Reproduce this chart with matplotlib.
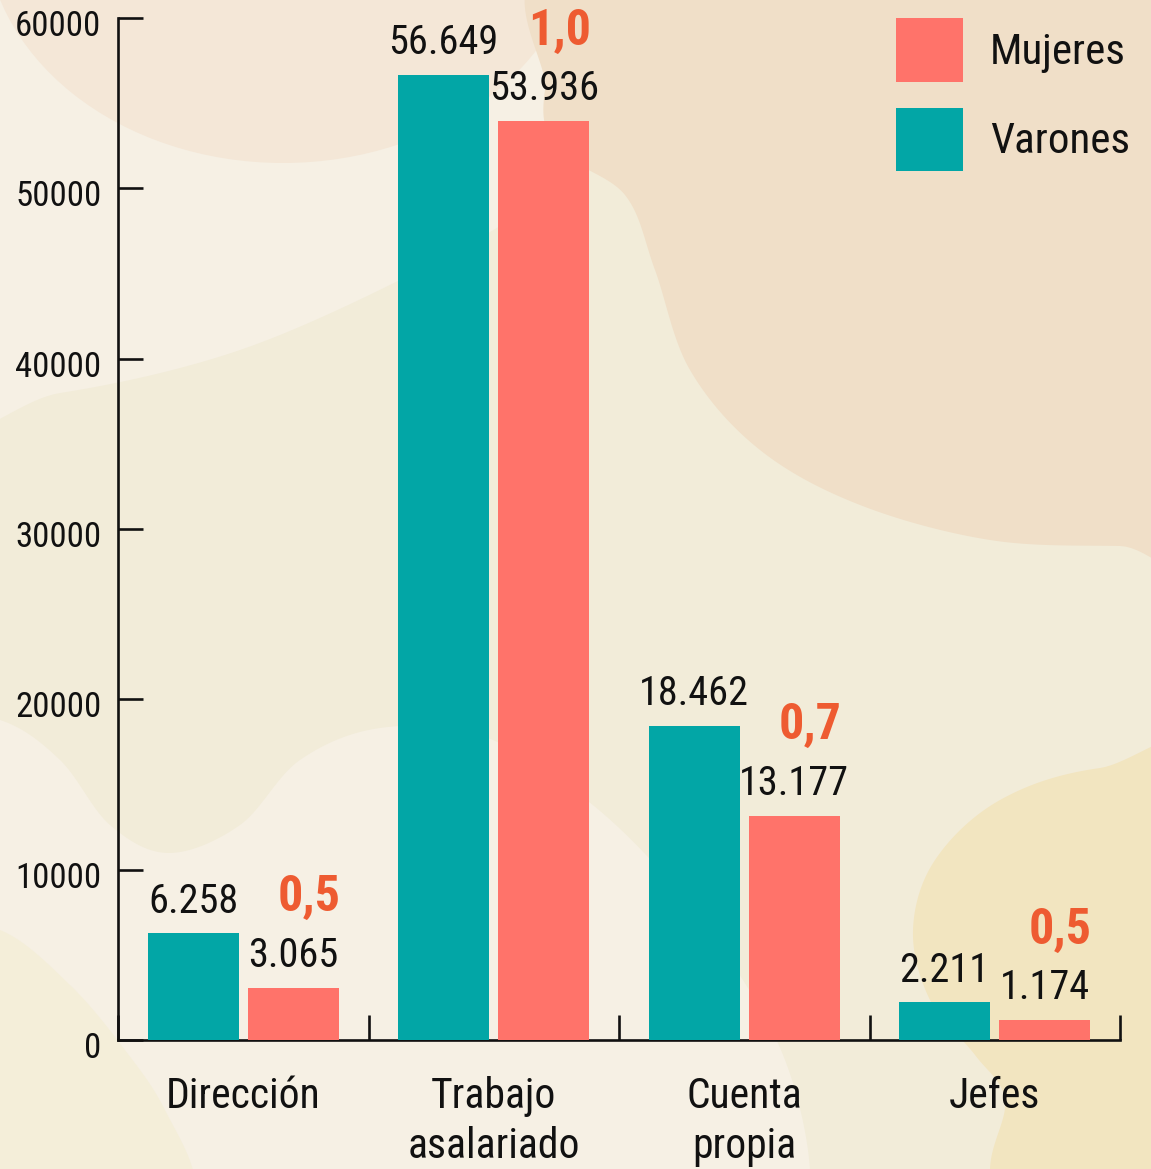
import numpy as np
import matplotlib
matplotlib.use('Agg')
import matplotlib.pyplot as plt
from matplotlib import font_manager
from matplotlib.patches import Polygon, Ellipse, Patch
import matplotlib.transforms as mtransforms

# Data
categories = ['Dirección', 'Trabajo\nasalariado', 'Cuenta\npropia', 'Jefes']
varones = [6258, 56649, 18462, 2211]
mujeres = [3065, 53936, 13177, 1174]
varones_labels = ['6.258', '56.649', '18.462', '2.211']
mujeres_labels = ['3.065', '53.936', '13.177', '1.174']
ratio_labels = ['0,5', '1,0', '0,7', '0,5']
yticks = [0, 10000, 20000, 30000, 40000, 50000, 60000]

TEAL = '#02A6A6'
CORAL = '#FF736A'
ORANGE = '#EE5B31'
INK = '#111111'

# Pick a condensed font if there is one
installed = {f.name for f in font_manager.fontManager.ttflist}
font = 'DejaVu Sans'
for name in ['Liberation Sans Narrow', 'Roboto Condensed', 'Open Sans Condensed']:
    if name in installed:
        font = name
        break
plt.rcParams['font.family'] = [font, 'DejaVu Sans']


def smooth(points, n=24):
    # closed Catmull-Rom curve through the points
    p = np.array(points, dtype=float)
    out = []
    m = len(p)
    for i in range(m):
        p0, p1, p2, p3 = p[i - 1], p[i], p[(i + 1) % m], p[(i + 2) % m]
        for t in np.linspace(0, 1, n, endpoint=False):
            t2, t3 = t * t, t * t * t
            out.append(0.5 * ((2 * p1) + (-p0 + p2) * t +
                              (2 * p0 - 5 * p1 + 4 * p2 - p3) * t2 +
                              (-p0 + 3 * p1 - 3 * p2 + p3) * t3))
    return np.array(out)


W, H = 1151, 1169
fig = plt.figure(figsize=(W / 100, H / 100), dpi=100)
fig.patch.set_facecolor('#F2ECD9')

# Background blobs (pixel coordinates, y down)
bg = fig.add_axes([0, 0, 1, 1], zorder=-5)
bg.set_xlim(0, W)
bg.set_ylim(H, 0)
bg.axis('off')

light = '#F6F0E4'
bg.add_patch(Polygon(smooth([(-80, -80), (720, -80), (640, 120), (540, 200), (420, 270),
                             (240, 350), (60, 393), (-80, 400)]), color=light, lw=0))
bg.add_patch(Ellipse((283, -75), 596, 476, color='#F4E7D7', lw=0))
bg.add_patch(Polygon(smooth([(590, -60), (545, 90), (560, 150), (625, 195), (655, 270),
                             (690, 370), (760, 450), (860, 505), (990, 540), (1120, 546),
                             (1250, 545), (1250, -60)]), color='#F0DFC8', lw=0))
bg.add_patch(Polygon(smooth([(-80, 715), (0, 720), (60, 760), (110, 825), (169, 853),
                             (240, 825), (300, 760), (380, 728), (480, 735), (580, 795),
                             (660, 870), (730, 960), (785, 1060), (810, 1169), (800, 1260),
                             (-80, 1260)]), color=light, lw=0))
bg.add_patch(Polygon(smooth([(-80, 925), (0, 930), (70, 985), (125, 1050), (165, 1110),
                             (195, 1190), (150, 1260), (-80, 1260)]), color='#F4EED9', lw=0))
bg.add_patch(Polygon(smooth([(1250, 765), (1100, 768), (1000, 800), (935, 860), (913, 930),
                             (930, 1000), (975, 1055), (1005, 1100), (990, 1169), (1000, 1260),
                             (1250, 1260)]), color='#F2E5C0', lw=0))

# Main axes
ax = fig.add_axes([118 / W, 1 - 1040 / H, (1120 - 118) / W, (1040 - 18) / H])
ax.patch.set_alpha(0)

x = np.arange(len(categories))
width = 0.363
ax.bar(x - 0.2, varones, width, color=TEAL, zorder=3)
ax.bar(x + 0.2, mujeres, width, color=CORAL, zorder=3)

ax.set_xlim(-0.5, 3.5)
ax.set_ylim(0, 60000)

for s in ['top', 'right']:
    ax.spines[s].set_visible(False)
for s in ['left', 'bottom']:
    ax.spines[s].set_linewidth(1.9)
    ax.spines[s].set_color(INK)

# y ticks
ax.set_yticks(yticks)
ax.set_yticklabels([str(v) for v in yticks])
ax.tick_params(axis='y', direction='in', length=18, width=1.9, color=INK,
               labelsize=25, pad=12, labelcolor=INK)
offset = mtransforms.ScaledTranslation(0, -0.05, fig.dpi_scale_trans)
for lab in ax.get_yticklabels():
    lab.set_transform(lab.get_transform() + offset)

# x ticks at group boundaries, labels at group centres
ax.set_xticks(np.arange(-0.5, 4, 1))
ax.set_xticklabels([])
ax.tick_params(axis='x', which='major', direction='in', length=18, width=1.9, color=INK)
ax.set_xticks(x, minor=True)
ax.set_xticklabels(categories, minor=True, fontsize=30, color=INK, linespacing=1.28, va='top')
ax.tick_params(axis='x', which='minor', length=0, pad=26)

# Value labels
for i in range(len(categories)):
    ax.annotate(varones_labels[i], (x[i] - 0.2, varones[i]), xytext=(0, 15),
                textcoords='offset points', ha='center', va='baseline',
                fontsize=29, color=INK, annotation_clip=False)
    ax.annotate(mujeres_labels[i], (x[i] + 0.2, mujeres[i]), xytext=(0, 15),
                textcoords='offset points', ha='center', va='baseline',
                fontsize=29, color=INK, annotation_clip=False)
    ax.annotate(ratio_labels[i], (x[i] + 0.2, mujeres[i]), xytext=(11, 55),
                textcoords='offset points', ha='center', va='baseline',
                fontsize=36, fontweight='bold', color=ORANGE, annotation_clip=False)

# Legend
handles = [Patch(color=CORAL, lw=0), Patch(color=TEAL, lw=0)]
leg = ax.legend(handles, ['Mujeres', 'Varones'], loc='upper right',
                bbox_to_anchor=(1130 / W, 1 - 18 / H), bbox_transform=fig.transFigure,
                frameon=False, fontsize=31, handlelength=1.56, handleheight=1.9,
                handletextpad=0.62, labelspacing=0.6, borderpad=0, borderaxespad=0)
for t in leg.get_texts():
    t.set_color(INK)

fig.savefig('out.png', dpi=100, facecolor=fig.get_facecolor())
